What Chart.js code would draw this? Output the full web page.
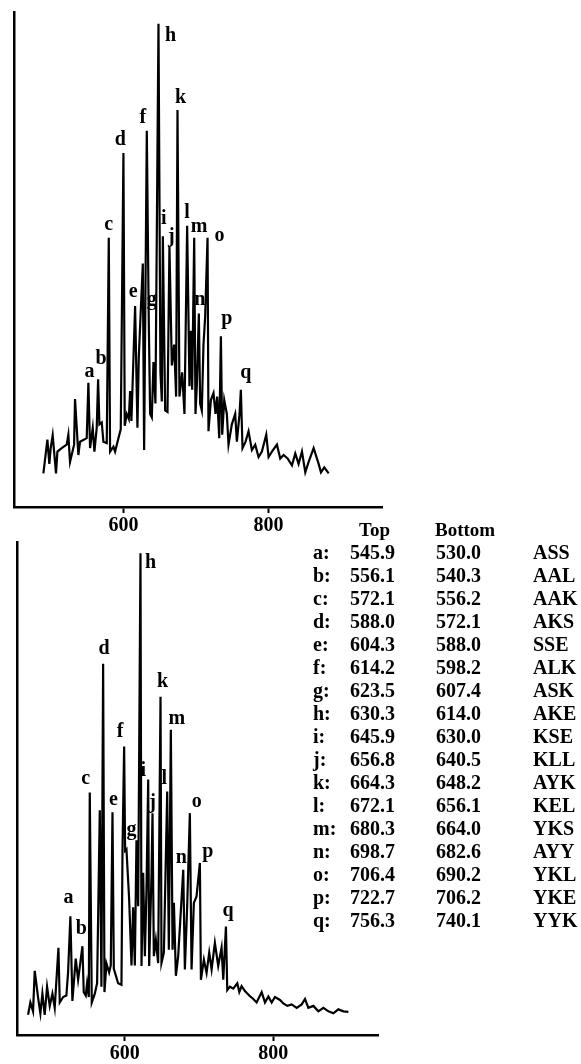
<!DOCTYPE html>
<html>
<head>
<meta charset="utf-8">
<script src="https://cdn.jsdelivr.net/npm/chart.js@4.4.1/dist/chart.umd.min.js"></script>
<style>
html,body{margin:0;padding:0;background:#fff;}
body{width:581px;height:1064px;position:relative;overflow:hidden;font-family:"Liberation Serif","Times New Roman",serif;font-weight:bold;color:#000;}
canvas{position:absolute;left:0;}
#table span{position:absolute;white-space:nowrap;line-height:20px;height:20px;font-size:20px;}
#table span.hd{font-size:19px;}
</style>
</head>
<body>
<canvas id="topChart" width="400" height="545" style="top:0px"></canvas>
<canvas id="bottomChart" width="400" height="539" style="top:525px"></canvas>
<div id="table"></div>
<script>
// ---------- DATA ----------
const xTickValues = [600, 800];

// Top spectrum: m/z and relative intensity
const topMz = [489.7,495.2,497.9,499.8,502.5,507.1,509.0,514.9,521.8,524.1,526.4,532.0,533.3,537.9,540.2,549.4,551.7,554.0,557.7,560.0,563.2,565.1,566.9,570.1,572.4,577.0,579.8,581.6,586.2,588.5,593.1,596.3,600.0,601.8,604.6,607.4,609.2,611.0,616.1,619.3,621.1,623.9,626.7,628.5,632.2,634.9,636.8,639.1,641.4,644.1,648.3,651.0,652.9,654.3,657.5,660.7,663.4,666.7,669.9,672.6,674.5,677.2,680.9,684.1,687.8,691.0,692.9,694.7,697.5,699.3,701.1,703.9,705.7,708.0,710.3,712.6,715.9,717.2,720.5,724.1,726.9,729.2,732.0,734.3,736.1,738.9,742.5,744.8,749.4,754.0,756.3,760.0,761.8,764.1,768.3,772.4,777.0,781.6,786.2,790.8,796.8,800.0,804.6,811.5,816.1,820.7,826.2,832.2,836.8,841.4,846.0,850.6,855.2,862.1,869.0,872.2,876.8,882.8];
const topIntensity = [6.8,13.6,8.7,11.9,14.5,6.8,11.2,11.9,12.6,14.6,9.1,12.6,21.8,10.5,13.2,13.9,25.1,11.9,16.0,11.2,16.0,25.8,16.7,17.1,13.2,12.9,54.4,11.2,12.2,11.2,13.9,15.7,71.5,16.4,18.8,17.8,23.4,17.4,40.6,16.0,30.0,39.7,49.2,11.5,76.0,37.7,18.8,18.1,29.3,20.9,97.6,27.2,21.3,54.7,19.5,19.2,52.6,28.6,32.8,22.3,80.2,22.3,27.2,18.8,56.8,24.4,35.6,23.7,54.4,18.8,24.4,39.1,20.9,19.5,32.8,38.4,54.4,15.3,21.6,23.0,18.8,22.3,13.9,34.5,14.6,21.6,18.8,12.6,16.7,18.8,13.2,18.8,23.7,11.9,13.2,15.3,11.5,12.6,10.1,11.2,14.6,10.1,11.2,12.6,9.8,10.5,9.8,8.4,10.8,8.7,11.2,7.0,9.1,11.9,8.7,7.0,8.0,6.8];
const topPeakMz = [551.7,565.1,579.8,600.0,616.1,632.2,634.9,648.3,654.3,663.4,674.5,687.8,697.5,703.9,715.9,734.3,761.8];

// Bottom spectrum: m/z and relative intensity
const bottomMz = [469.7,472.8,476.4,478.7,483.1,486.3,489.0,492.1,495.3,498.9,502.5,505.6,510.6,512.4,516.9,521.3,523.6,526.7,529.4,533.9,537.1,539.3,542.9,544.7,547.4,549.2,551.5,552.8,555.5,559.6,562.7,566.3,568.5,570.8,572.6,575.3,578.9,581.1,583.4,585.2,591.0,595.5,596.9,599.1,600.4,602.2,605.8,609.0,611.2,613.5,615.7,618.0,621.1,622.5,624.7,627.0,629.2,631.5,632.8,636.0,637.3,639.1,641.8,644.9,648.1,649.4,652.6,657.1,659.3,662.0,664.3,666.1,668.8,671.9,678.7,680.9,684.0,687.6,689.9,693.0,696.6,701.1,702.5,706.5,710.1,713.7,716.9,721.3,725.8,730.3,732.6,736.2,738.0,741.6,746.1,751.5,754.2,757.3,761.8,767.6,773.0,777.5,784.3,788.8,793.3,797.8,802.2,809.0,813.5,818.9,824.7,831.5,838.2,842.7,847.2,854.0,860.7,867.4,874.2,880.9,887.6,894.4,901.1];
const bottomIntensity = [4.1,6.6,4.8,13.0,7.7,4.4,8.4,4.1,9.8,5.9,8.4,5.5,17.7,6.6,7.7,8.0,12.7,24.1,6.9,15.5,11.2,13.7,18.0,8.7,8.0,10.5,7.7,49.2,6.6,8.4,10.5,45.6,9.8,75.3,8.7,14.5,12.7,14.1,45.2,13.4,10.5,10.2,37.7,58.5,37.4,37.7,27.7,14.1,25.9,14.1,39.5,26.1,97.7,14.0,32.9,16.0,29.5,51.8,14.0,32.9,45.0,16.0,19.3,14.6,68.6,14.6,16.7,49.4,17.3,61.9,17.3,26.8,12.0,16.0,33.5,13.3,26.1,45.0,13.3,26.8,28.1,34.9,11.2,15.3,12.6,16.7,13.3,18.7,14.0,17.7,11.2,22.0,9.1,9.8,9.4,10.5,8.7,9.9,8.9,8.0,7.3,6.6,8.7,6.6,7.8,6.6,7.7,7.1,6.4,5.9,6.2,5.5,6.2,7.3,5.5,5.9,4.8,5.5,4.8,4.4,5.2,4.8,4.7];
const bottomPeakMz = [526.7,542.9,552.8,570.8,583.4,599.1,602.2,621.1,631.5,637.3,648.1,657.1,662.0,678.7,687.6,701.1,736.2];

// Peak letters and assignment table
const peakLetters = ['a','b','c','d','e','f','g','h','i','j','k','l','m','n','o','p','q'];
const tableTopMass = [545.9,556.1,572.1,588.0,604.3,614.2,623.5,630.3,645.9,656.8,664.3,672.1,680.3,698.7,706.4,722.7,756.3];
const tableBottomMass = [530.0,540.3,556.2,572.1,588.0,598.2,607.4,614.0,630.0,640.5,648.2,656.1,664.0,682.6,690.2,706.2,740.1];
const tableSequence = ['ASS','AAL','AAK','AKS','SSE','ALK','ASK','AKE','KSE','KLL','AYK','KEL','YKS','AYY','YKL','YKE','YYK'];
const tableHeaders = ['Top','Bottom'];

// ---------- LAYOUT / STYLE ----------
const FONT = '"Liberation Serif", "Times New Roman", serif';
// label offsets (px) relative to peak tip: styling only
const topLabelOffsets = [[1,-11],[3,-20],[0,-13],[-3,-13],[-2,-14],[-4,-13],[3,-21],[12,12],[1,-17],[2,-10],[3,-12],[0,-13],[5,-11],[1,-14],[12,-2],[6,-17],[5,-17]];
const bottomLabelOffsets = [[-2,-18],[-1,-17],[-4,-14],[1,-15],[1,-12],[-4,-15],[5,-19],[10,9],[-5,-9],[0,-10],[2,-15],[-3,-13],[6,-11],[-2,-12],[7,-11],[8,-11],[2,-16]];

function makePeakPlugin(mzArr, peakMz, offsets) {
  return {
    id: 'peakLabels',
    afterDatasetsDraw(chart) {
      const meta = chart.getDatasetMeta(0);
      const ctx = chart.ctx;
      ctx.save();
      ctx.font = 'bold 20px ' + FONT;
      ctx.fillStyle = '#000';
      ctx.textAlign = 'center';
      ctx.textBaseline = 'middle';
      peakLetters.forEach((L, i) => {
        let best = 0, bd = Infinity;
        mzArr.forEach((m, j) => { const d = Math.abs(m - peakMz[i]); if (d < bd) { bd = d; best = j; } });
        const el = meta.data[best];
        ctx.fillText(L, el.x + offsets[i][0], el.y + offsets[i][1]);
      });
      ctx.restore();
    }
  };
}

function makeChart(id, mzArr, intArr, xMin, xMax, pad, axisH, peakMz, offsets) {
  return new Chart(document.getElementById(id), {
    type: 'line',
    data: {
      datasets: [{
        data: mzArr.map((x, i) => ({ x: x, y: intArr[i] })),
        borderColor: '#000',
        borderWidth: 2.2,
        pointRadius: 0,
        tension: 0,
        fill: false
      }]
    },
    options: {
      responsive: false,
      animation: false,
      devicePixelRatio: 1,
      layout: { padding: pad },
      plugins: { legend: { display: false }, tooltip: { enabled: false } },
      scales: {
        x: {
          type: 'linear', min: xMin, max: xMax,
          afterBuildTicks: s => { s.ticks = xTickValues.map(v => ({ value: v })); },
          afterFit: s => { s.height = axisH; },
          grid: { display: true, drawOnChartArea: false, drawTicks: true, tickLength: 6, tickWidth: 2, tickColor: '#000' },
          border: { display: true, color: '#000', width: 2.5 },
          ticks: { color: '#000', font: { family: FONT, weight: 'bold', size: 20 }, padding: 1, maxRotation: 0, autoSkip: false, callback: v => String(v) }
        },
        y: {
          min: 0, max: 100,
          afterFit: s => { s.width = 0; },
          grid: { display: false },
          border: { display: true, color: '#000', width: 2.5 },
          ticks: { display: false }
        }
      }
    },
    plugins: [makePeakPlugin(mzArr, peakMz, offsets)]
  });
}

makeChart('topChart', topMz, topIntensity, 449.2, 956.3, { left: 14, top: 12, right: 18, bottom: 0 }, 38, topPeakMz, topLabelOffsets);
makeChart('bottomChart', bottomMz, bottomIntensity, 454.8, 941.0, { left: 17, top: 17, right: 22, bottom: 0 }, 29, bottomPeakMz, bottomLabelOffsets);

// ---------- TABLE ----------
const tbl = document.getElementById('table');
function addText(txt, left, centerY, cls) {
  const s = document.createElement('span');
  s.textContent = txt;
  s.style.left = left + 'px';
  s.style.top = (centerY - 10) + 'px';
  if (cls) s.className = cls;
  tbl.appendChild(s);
}
addText(tableHeaders[0], 359, 530, 'hd');
addText(tableHeaders[1], 435, 530, 'hd');
peakLetters.forEach((L, i) => {
  const cy = 552 + i * 23;
  addText(L + ':', 313, cy);
  addText(tableTopMass[i].toFixed(1), 350, cy);
  addText(tableBottomMass[i].toFixed(1), 436, cy);
  addText(tableSequence[i], 533, cy);
});
</script>
</body>
</html>
